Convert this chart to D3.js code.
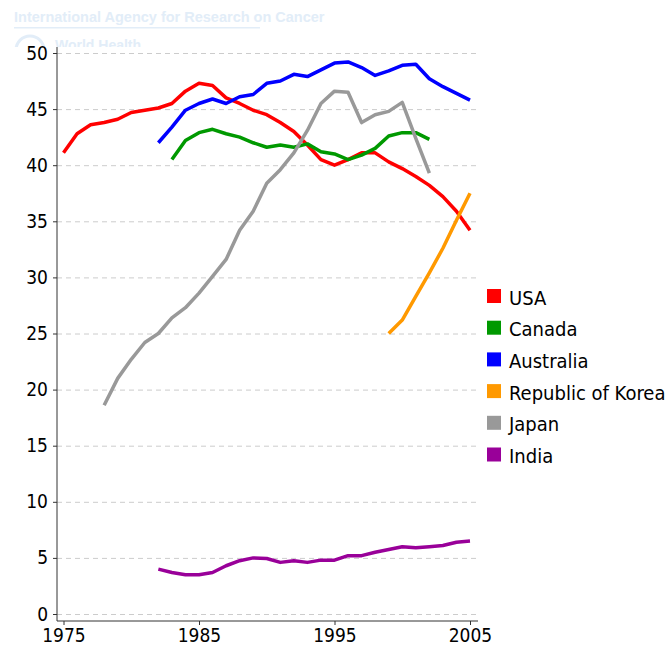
<!DOCTYPE html>
<html>
<head>
<meta charset="utf-8">
<script src="https://cdn.jsdelivr.net/npm/d3@7"></script>
<style>
body { margin: 0; background: #fff; }
text.lbl, .tick text { font-family: "DejaVu Sans", sans-serif; font-stretch: condensed; }
</style>
</head>
<body>
<script>
// values (rate per 100,000)
var usaYears = d3.range(1975, 2006);
var usaValues = [41.1, 42.8, 43.6, 43.8, 44.1, 44.7, 44.9, 45.1, 45.5, 46.6, 47.3, 47.1, 46.0, 45.5, 44.9, 44.5,
  43.8, 43.0, 41.8, 40.5, 40.0, 40.5, 41.1, 41.1, 40.3, 39.7, 39.0, 38.2, 37.2, 35.9, 34.2];
var canadaYears = d3.range(1983, 2003);
var canadaValues = [40.5, 42.2, 42.9, 43.2, 42.8, 42.5, 42.0, 41.6, 41.8, 41.6, 41.9, 41.2, 41.0, 40.5, 40.9,
  41.5, 42.6, 42.9, 42.9, 42.3];
var australiaYears = d3.range(1982, 2006);
var australiaValues = [42.0, 43.4, 44.9, 45.5, 45.9, 45.5, 46.1, 46.3, 47.3, 47.5, 48.1, 47.9, 48.5, 49.1, 49.2,
  48.7, 48.0, 48.4, 48.9, 49.0, 47.7, 47.0, 46.4, 45.8];
var koreaYears = d3.range(1999, 2006);
var koreaValues = [25.0, 26.2, 28.3, 30.4, 32.6, 35.1, 37.5];
var japanYears = d3.range(1978, 2003);
var japanValues = [18.6, 21.0, 22.7, 24.2, 25.0, 26.4, 27.3, 28.6, 30.1, 31.6, 34.2, 35.9, 38.4, 39.6, 41.1,
  43.1, 45.5, 46.6, 46.5, 43.8, 44.5, 44.8, 45.6, 42.4, 39.3];
var indiaYears = d3.range(1982, 2006);
var indiaValues = [4.0, 3.7, 3.5, 3.5, 3.7, 4.3, 4.75, 5.0, 4.95, 4.6, 4.75, 4.6, 4.8, 4.8, 5.2, 5.2, 5.5,
  5.75, 6.0, 5.9, 6.0, 6.1, 6.4, 6.5];

var seriesNames = ["USA", "Canada", "Australia", "Republic of Korea", "Japan", "India"];
var seriesColors = ["#ff0000", "#009900", "#0000ff", "#ff9900", "#999999", "#990099"];
var yTicks = [0, 5, 10, 15, 20, 25, 30, 35, 40, 45, 50];
var xTicks = [1975, 1985, 1995, 2005];

var series = [
  [usaYears, usaValues], [canadaYears, canadaValues], [australiaYears, australiaValues],
  [koreaYears, koreaValues], [japanYears, japanValues], [indiaYears, indiaValues]
].map(function(s, i){
  return { name: seriesNames[i], color: seriesColors[i],
    pts: s[0].map(function(y, j){ return [y, s[1][j]]; }) };
});

var W = 670, H = 652;
var svg = d3.select("body").append("svg").attr("width", W).attr("height", H);

// faint watermark, cut off by the plot
var wm = svg.append("g").attr("fill", "#e2edf8");
wm.append("text").attr("x", 14).attr("y", 22)
  .style("font-family", "Liberation Sans, Arial, sans-serif").style("font-weight", "bold").style("font-size", "14.5px")
  .text("International Agency for Research on Cancer");
wm.append("rect").attr("x", 14).attr("y", 27).attr("width", 246).attr("height", 1.5);
wm.append("circle").attr("cx", 30).attr("cy", 50).attr("r", 14).attr("fill", "none")
  .attr("stroke", "#e2edf8").attr("stroke-width", 3);
wm.append("text").attr("x", 55).attr("y", 50)
  .style("font-family", "Liberation Sans, Arial, sans-serif").style("font-weight", "bold").style("font-size", "14px")
  .text("World Health");
svg.append("rect").attr("x", 0).attr("y", 47).attr("width", 480).attr("height", 20).attr("fill", "#fff");

var x = d3.scaleLinear().domain([1975, 2005]).range([63.5, 470]);
var y = d3.scaleLinear().domain([0, 50]).range([614, 53]);
var left = 57, right = 478, bottom = 621;

// grid
svg.append("g").selectAll("line").data(yTicks).enter().append("line")
  .attr("x1", left).attr("x2", right)
  .attr("y1", function(d){ return y(d) + 0.5; }).attr("y2", function(d){ return y(d) + 0.5; })
  .attr("stroke", "#cccccc").attr("stroke-width", 1).attr("stroke-dasharray", "5,4");

// axes
var yAxis = svg.append("g").attr("transform", "translate(" + left + ",0)")
  .call(d3.axisLeft(y).tickValues(yTicks).tickSize(4).tickPadding(5));
yAxis.select(".domain").attr("d", "M0,47V" + bottom);
var xAxis = svg.append("g").attr("transform", "translate(0," + bottom + ")")
  .call(d3.axisBottom(x).tickValues(xTicks).tickFormat(d3.format("d")).tickSize(4).tickPadding(4));
xAxis.select(".domain").attr("d", "M" + left + ",0H" + right);
svg.selectAll(".tick text").attr("fill", "#000").attr("font-family", null).style("font-size", "19px");
svg.selectAll(".domain, .tick line").attr("stroke", "#333");

// lines
var line = d3.line().x(function(d){ return x(d[0]); }).y(function(d){ return y(d[1]); });
svg.append("g").selectAll("path").data(series).enter().append("path")
  .attr("d", function(d){ return line(d.pts); })
  .attr("fill", "none").attr("stroke", function(d){ return d.color; })
  .attr("stroke-width", 3.5).attr("stroke-linejoin", "round");

// legend
var lg = svg.append("g").selectAll("g").data(series).enter().append("g")
  .attr("transform", function(d, i){ return "translate(487," + (289 + i * 31.7) + ")"; });
lg.append("rect").attr("width", 14).attr("height", 14).attr("fill", function(d){ return d.color; });
lg.append("text").attr("class", "lbl").attr("x", 22).attr("y", 15.5).style("font-size", "20px").attr("fill", "#000")
  .text(function(d){ return d.name; });
</script>
</body>
</html>
